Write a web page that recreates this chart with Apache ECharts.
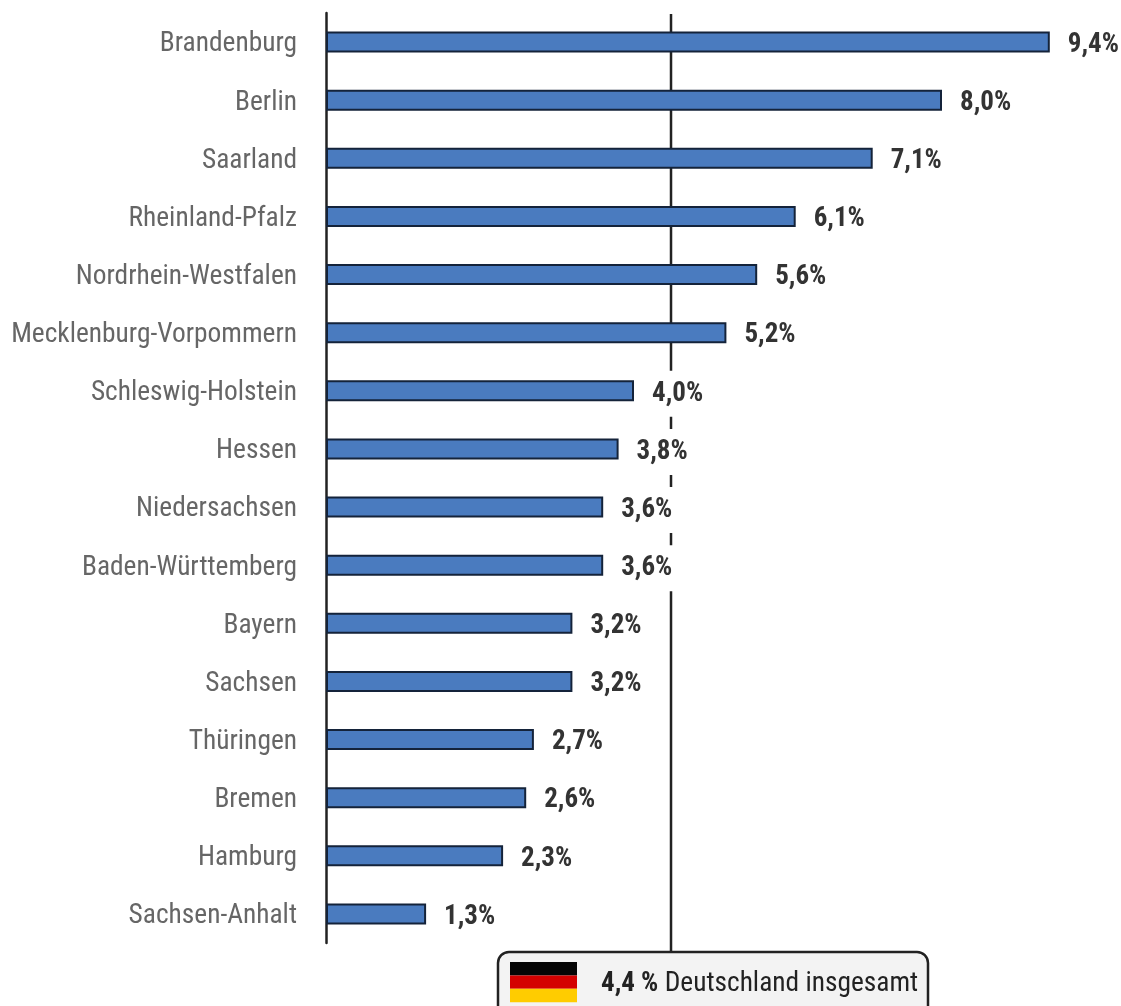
<!DOCTYPE html>
<html lang="de">
<head>
<meta charset="utf-8">
<title>Anteil nach Bundesland</title>
<script src="https://cdn.jsdelivr.net/npm/echarts@6/dist/echarts.min.js"></script>
<style>
html,body{margin:0;padding:0;background:#fff;overflow:hidden}
#chart{width:1121px;height:1006px}
</style>
</head>
<body>
<div id="chart"></div>
<script>
const states = ["Brandenburg","Berlin","Saarland","Rheinland-Pfalz","Nordrhein-Westfalen","Mecklenburg-Vorpommern","Schleswig-Holstein","Hessen","Niedersachsen","Baden-Württemberg","Bayern","Sachsen","Thüringen","Bremen","Hamburg","Sachsen-Anhalt"];
const shares = [9.4,8.0,7.1,6.1,5.6,5.2,4.0,3.8,3.6,3.6,3.2,3.2,2.7,2.6,2.3,1.3];
const germanyTotal = 4.4;
const flagStripes = ["#050505","#d40000","#ffcc00"];

const narrowFont = '"Roboto Condensed","Liberation Sans Narrow","Roboto",sans-serif';
const chart = echarts.init(document.getElementById('chart'), null, {renderer:'canvas'});

chart.setOption({
  animation:false,
  backgroundColor:'#fff',
  grid:[
    {left:326, top:13, width:770, height:930},
    // The national reference line runs a little past the bars, down to the callout box.
    {left:326, top:14, width:770, height:938}
  ],
  xAxis:[
    {gridIndex:0, type:'value', min:0, max:10, show:false},
    // The reference line keeps its own scale.
    {gridIndex:1, type:'value', min:0, max:9.82, show:false}
  ],
  yAxis:[
    {gridIndex:0, type:'category', inverse:true, data:states,
     axisTick:{show:false},
     axisLine:{show:true, lineStyle:{color:'#222', width:2.5}},
     axisLabel:{margin:29, formatter:v=>'{s|'+v+'}',
       rich:{s:{color:'#666', fontSize:27.4, fontFamily:narrowFont, padding:[5,0,0,0]}}}},
    {gridIndex:1, type:'value', min:0, max:1, show:false}
  ],
  series:[
    {type:'line', xAxisIndex:1, yAxisIndex:1, z:1, symbol:'none', silent:true,
     lineStyle:{color:'#222', width:2.5},
     data:[[germanyTotal,0],[germanyTotal,1]]},
    {type:'bar', xAxisIndex:0, yAxisIndex:0, z:3, barWidth:21,
     data:shares,
     itemStyle:{color:'#4a7bbf', borderColor:'#14233a', borderWidth:2},
     label:{show:true, position:'right', distance:14, offset:[0,3],
       formatter:p=>p.value.toFixed(1).replace('.',',')+'%',
       color:'#333', fontSize:27, fontWeight:'bold', fontFamily:narrowFont,
       backgroundColor:'#fff', height:46, lineHeight:46, padding:[0,3,0,4]}}
  ],
  graphic:[
    {type:'group', silent:true, z:10, children:[
      {type:'rect', shape:{x:498,y:952,width:430,height:70,r:11},
       style:{fill:'#f3f3f3', stroke:'#222', lineWidth:2.5}},
      ...flagStripes.map((c,i)=>({type:'rect', shape:{x:510,y:962+i*13.4,width:67,height:13.4}, style:{fill:c}})),
      {type:'text', x:601, y:984, style:{
        text:'{b|'+germanyTotal.toFixed(1).replace('.',',')+' %} {n|Deutschland insgesamt}',
        verticalAlign:'middle',
        rich:{
          b:{fontSize:27, fontWeight:'bold', fill:'#222', fontFamily:narrowFont},
          n:{fontSize:27.4, fill:'#222', fontFamily:narrowFont, padding:[0,0,0,3]}
        }}}
    ]}
  ]
});
</script>
</body>
</html>
